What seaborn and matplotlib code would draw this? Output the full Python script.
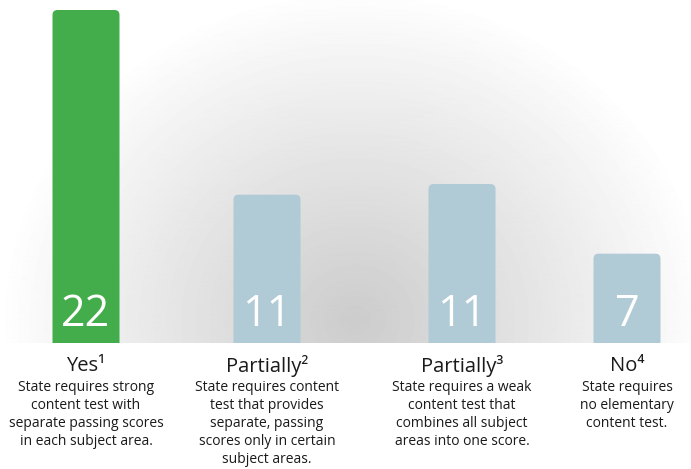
import numpy as np
import pandas as pd
import matplotlib.pyplot as plt
from matplotlib.patches import FancyBboxPatch
import seaborn as sns

# Data
answers = ["Yes", "Partially (2)", "Partially (3)", "No"]
counts = [22, 11, 11, 7]
# the original bars are not drawn to scale, so keep the drawn heights apart
bar_heights = [22, 9.8, 10.5, 5.9]
titles = ["Yes\u00b9", "Partially\u00b2", "Partially\u00b3", "No\u2074"]
notes = [
    "State requires strong\ncontent test with\nseparate passing scores\nin each subject area.",
    "State requires content\ntest that provides\nseparate, passing\nscores only in certain\nsubject areas.",
    "State requires a weak\ncontent test that\ncombines all subject\nareas into one score.",
    "State requires\nno elementary\ncontent test.",
]
colors = ["#43ad4b", "#b0cad6", "#b0cad6", "#b0cad6"]

# layout (pixel centres of the bars in the original)
bar_centers = [86, 267, 462, 627]

sns.set_style("white")
plt.rcParams["font.family"] = ["Open Sans", "DejaVu Sans"]

W, H, BASE = 691, 469, 343          # figure px, baseline px from top
ymax = 22 * BASE / 333
px = ymax / BASE                    # data units per pixel (y)

fig = plt.figure(figsize=(W / 100, H / 100), dpi=100)
ax = fig.add_axes([0, (H - BASE) / H, 1, BASE / H])

# soft radial grey glow behind the bars
xx, yy = np.meshgrid(np.arange(W), np.arange(BASE))
d = np.sqrt(((xx - 355) / 355) ** 2 + ((yy - 320) / 330) ** 2)
glow = 1 - 0.2 * np.clip(1 - d, 0, 1) ** 0.95
ax.imshow(glow, cmap="gray", vmin=0, vmax=1, extent=(0, W, 0, ymax),
          aspect="auto", origin="upper", zorder=0)

df = pd.DataFrame({"x": bar_centers, "height": bar_heights, "answer": answers})
sns.barplot(data=df, x="x", y="height", hue="answer", palette=colors,
            saturation=1, native_scale=True, width=67 / 165, legend=False,
            ax=ax, zorder=2)

# swap the plain bars for ones with rounded tops
for patch in list(ax.patches):
    x0, w, h = patch.get_x(), patch.get_width(), patch.get_height()
    patch.set_visible(False)
    ax.add_patch(FancyBboxPatch((x0, -1), w, h + 1,
                                boxstyle="round,pad=0,rounding_size=5",
                                mutation_aspect=px, facecolor=patch.get_facecolor(),
                                edgecolor="none", zorder=3))

for xc, n, t, note in zip(bar_centers, counts, titles, notes):
    ax.text(xc, 17 * px, str(n), ha="center", va="baseline", color="white",
            fontsize=31, zorder=4)
    ax.text(xc, -23 * px, t, ha="center", va="center", color="#1a1a1a",
            fontsize=14.5)
    ax.text(xc, -37 * px, note, ha="center", va="top", color="#1a1a1a",
            fontsize=10, linespacing=1.27)

ax.set_xlim(0, W)
ax.set_ylim(0, ymax)
ax.axis("off")

fig.savefig("out.png", dpi=100)
